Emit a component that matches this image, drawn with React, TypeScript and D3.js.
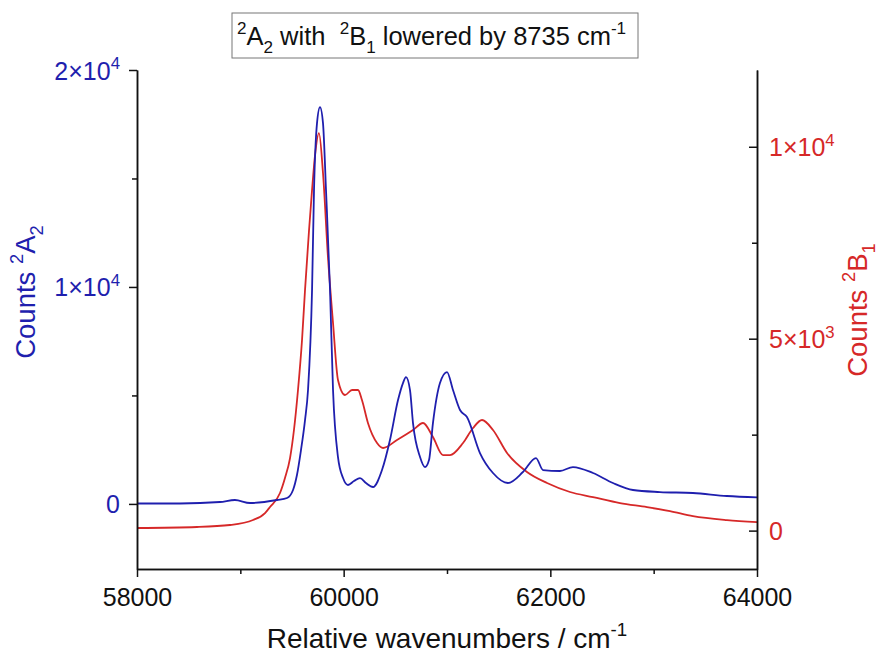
import React, { useRef, useEffect } from 'react';
import * as d3 from 'd3';

// 2A2 spectrum (left axis)
const wavenumbersA = [58000, 58416, 58803, 58948, 59094, 59355, 59452, 59510, 59548, 59587, 59626, 59655, 59694, 59713, 59742, 59771, 59800, 59829, 59868, 59897, 59945, 59994, 60042, 60100, 60158, 60216, 60284, 60371, 60448, 60526, 60574, 60603, 60642, 60671, 60739, 60787, 60826, 60864, 60932, 61000, 61058, 61126, 61193, 61319, 61445, 61590, 61735, 61861, 61929, 62093, 62219, 62413, 62606, 62800, 63061, 63380, 63709, 64000];
const countsA = [18, 20, 88, 180, 41, 180, 272, 640, 1332, 2484, 3866, 5249, 9857, 14465, 17552, 18290, 17552, 14465, 9857, 5249, 2161, 1193, 871, 1055, 1193, 963, 779, 1562, 2945, 4787, 5571, 5847, 5249, 3727, 2161, 1700, 2023, 3727, 5571, 6078, 5249, 4327, 4004, 2345, 1424, 963, 1470, 2115, 1562, 1516, 1700, 1424, 963, 641, 548, 502, 364, 300];

// 2B1 spectrum (right axis), shifted by 8735 cm-1
const wavenumbersB = [58000, 58581, 58900, 59123, 59239, 59287, 59384, 59432, 59481, 59519, 59558, 59597, 59626, 59665, 59694, 59723, 59761, 59800, 59848, 59897, 59945, 60013, 60081, 60139, 60177, 60235, 60323, 60381, 60516, 60671, 60768, 60864, 60961, 61029, 61155, 61252, 61339, 61445, 61581, 61774, 61968, 62190, 62413, 62674, 62935, 63158, 63380, 63709, 64000];
const countsB = [68, 94, 146, 276, 458, 615, 979, 1370, 1891, 2621, 3663, 4965, 6268, 7831, 8873, 9785, 10358, 9316, 7127, 5408, 3924, 3533, 3663, 3663, 3403, 2804, 2283, 2152, 2361, 2621, 2804, 2439, 1969, 1969, 2283, 2673, 2882, 2621, 2022, 1527, 1240, 1006, 873, 717, 613, 508, 378, 274, 220];

const xTicks = [58000, 60000, 62000, 64000];
const xMinor = [59000, 61000, 63000];
const leftTicks = [0, 10000, 20000];
const leftMinor = [5000, 15000];
const rightTicks = [0, 5000, 10000];
const rightMinor = [2500, 7500];

const blue = '#1f1fae';
const red = '#d62828';
const font = "'Liberation Sans', Arial, sans-serif";

// segments: [text, 'sup' | 'sub' | '']
const addRich = (text, segs, fs) => {
  let shift = 0;
  segs.forEach(([t, kind]) => {
    const target = kind === 'sup' ? -0.42 * fs : kind === 'sub' ? 0.3 * fs : 0;
    text.append('tspan')
      .attr('dy', target - shift)
      .style('font-size', kind ? fs * 0.67 + 'px' : fs + 'px')
      .text(t);
    shift = target;
  });
};

const sci = (v) => {
  if (v === 0) return [['0', '']];
  const e = Math.floor(Math.log10(v));
  return [[`${v / Math.pow(10, e)}×10`, ''], [`${e}`, 'sup']];
};

const App = () => {
  const svgRef = useRef(null);

  useEffect(() => {
    const svg = d3.select(svgRef.current);
    svg.selectAll('*').remove();

    const x = d3.scaleLinear().domain([58000, 64000]).range([137, 757]);
    const yL = d3.scaleLinear().domain([-3000, 20000]).range([569, 70]);
    const yR = d3.scaleLinear().domain([-1000, 12000]).range([569, 70]);

    const g = svg.append('g').style('font-family', font);

    // curves
    const lineA = d3.line().x((d) => x(d[0])).y((d) => yL(d[1])).curve(d3.curveMonotoneX);
    const lineB = d3.line().x((d) => x(d[0])).y((d) => yR(d[1])).curve(d3.curveMonotoneX);

    g.append('path')
      .attr('d', lineB(d3.zip(wavenumbersB, countsB)))
      .style('fill', 'none').style('stroke', red).style('stroke-width', 1.8);
    g.append('path')
      .attr('d', lineA(d3.zip(wavenumbersA, countsA)))
      .style('fill', 'none').style('stroke', blue).style('stroke-width', 1.8);

    const styleAxis = (sel) => {
      sel.selectAll('path, line').style('stroke', '#111').style('stroke-width', 1.5);
      sel.selectAll('text').remove();
    };

    // bottom
    g.append('g').attr('transform', 'translate(0,569)')
      .call(d3.axisBottom(x).tickValues(xMinor).tickSize(5).tickSizeOuter(0)).call(styleAxis);
    const bx = g.append('g').attr('transform', 'translate(0,569)')
      .call(d3.axisBottom(x).tickValues(xTicks).tickSize(8).tickSizeOuter(0)).call(styleAxis);
    bx.selectAll('.tick').append('text')
      .attr('y', 37).attr('text-anchor', 'middle')
      .style('fill', '#111').style('font-size', '25px')
      .text((d) => d);

    // left
    g.append('g').attr('transform', 'translate(137,0)')
      .call(d3.axisLeft(yL).tickValues(leftMinor).tickSize(5).tickSizeOuter(0)).call(styleAxis);
    const lx = g.append('g').attr('transform', 'translate(137,0)')
      .call(d3.axisLeft(yL).tickValues(leftTicks).tickSize(8).tickSizeOuter(0)).call(styleAxis);
    lx.selectAll('.tick').append('text')
      .attr('x', -17).attr('y', 9).attr('text-anchor', 'end')
      .style('fill', blue)
      .each(function (d) { addRich(d3.select(this), sci(d), 25); });

    // right, ticks pointing inward
    g.append('g').attr('transform', 'translate(757,0)')
      .call(d3.axisRight(yR).tickValues(rightMinor).tickSize(-5).tickSizeOuter(0)).call(styleAxis);
    const rx = g.append('g').attr('transform', 'translate(757,0)')
      .call(d3.axisRight(yR).tickValues(rightTicks).tickSize(-8).tickSizeOuter(0)).call(styleAxis);
    rx.selectAll('.tick').append('text')
      .attr('x', 12).attr('y', 9).attr('text-anchor', 'start')
      .style('fill', red)
      .each(function (d) { addRich(d3.select(this), sci(d), 25); });

    // axis titles
    const xt = g.append('text').attr('x', 447).attr('y', 648).attr('text-anchor', 'middle').style('fill', '#111');
    addRich(xt, [['Relative wavenumbers / cm', ''], ['-1', 'sup']], 28);

    const lt = g.append('text').attr('transform', 'translate(35,292) rotate(-90)')
      .attr('text-anchor', 'middle').style('fill', blue);
    addRich(lt, [['Counts ', ''], ['2', 'sup'], ['A', ''], ['2', 'sub']], 27.5);

    const rt = g.append('text').attr('transform', 'translate(867,310) rotate(-90)')
      .attr('text-anchor', 'middle').style('fill', red);
    addRich(rt, [['Counts ', ''], ['2', 'sup'], ['B', ''], ['1', 'sub']], 27.5);

    // title box
    g.append('rect').attr('x', 232).attr('y', 13).attr('width', 406).attr('height', 45)
      .style('fill', '#fff').style('stroke', '#777').style('stroke-width', 1);
    const tt = g.append('text').attr('x', 237).attr('y', 45).style('fill', '#111');
    addRich(tt, [
      ['2', 'sup'], ['A', ''], ['2', 'sub'], [' with \u00a0', ''], ['2', 'sup'], ['B', ''], ['1', 'sub'],
      [' lowered by 8735 cm', ''], ['-1', 'sup'],
    ], 25.5);
  }, []);

  return (
    <svg ref={svgRef} width={878} height={655} style={{ position: 'absolute', left: 0, top: 0, background: '#fff' }} />
  );
};

export default App;
